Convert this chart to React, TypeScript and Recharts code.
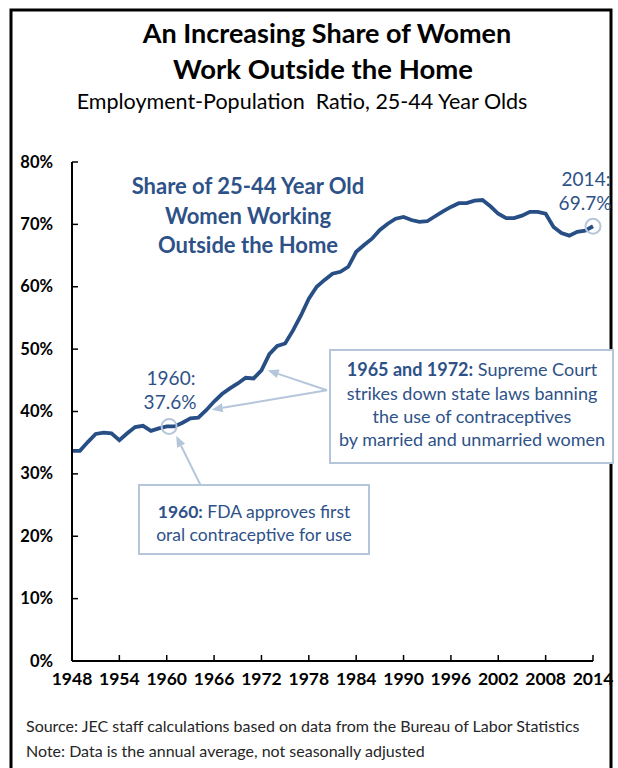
import { LineChart, Line, XAxis, YAxis, ReferenceDot, ReferenceLine } from 'recharts';

const YEARS = [
  1948, 1949, 1950, 1951, 1952, 1953, 1954, 1955, 1956, 1957, 1958, 1959,
  1960, 1961, 1962, 1963, 1964, 1965, 1966, 1967, 1968, 1969, 1970, 1971,
  1972, 1973, 1974, 1975, 1976, 1977, 1978, 1979, 1980, 1981, 1982, 1983,
  1984, 1985, 1986, 1987, 1988, 1989, 1990, 1991, 1992, 1993, 1994, 1995,
  1996, 1997, 1998, 1999, 2000, 2001, 2002, 2003, 2004, 2005, 2006, 2007,
  2008, 2009, 2010, 2011, 2012, 2013, 2014,
];

// employment-population ratio, women 25-44, percent
const SHARE = [
  33.7, 33.7, 35.1, 36.4, 36.6, 36.5, 35.4, 36.5, 37.5, 37.7, 36.9, 37.3,
  37.6, 37.6, 38.2, 38.9, 39.0, 40.2, 41.6, 42.8, 43.7, 44.5, 45.4, 45.3,
  46.6, 49.2, 50.5, 50.9, 53.0, 55.4, 58.1, 60.0, 61.1, 62.1, 62.4, 63.2,
  65.6, 66.7, 67.7, 69.1, 70.1, 70.9, 71.2, 70.7, 70.4, 70.5, 71.3, 72.1,
  72.8, 73.4, 73.4, 73.8, 73.9, 72.9, 71.7, 71.0, 71.0, 71.4, 72.0, 72.0,
  71.7, 69.6, 68.6, 68.2, 68.8, 69.0, 69.7,
];

const X_TICKS = [1948, 1954, 1960, 1966, 1972, 1978, 1984, 1990, 1996, 2002, 2008, 2014];
const Y_TICKS = [0, 10, 20, 30, 40, 50, 60, 70, 80];

const data = YEARS.map((year, i) => ({ year, share: SHARE[i] }));

const FONT = 'Lato, "Open Sans", sans-serif';
const LINE_COLOR = '#284E86';
const TEXT_BLUE = '#2E5288';
const PALE = '#B5C6DA';

const XTick = ({ x, y, payload }: any) => (
  <g>
    <line x1={x} x2={x} y1={y} y2={y - 6} stroke="#000" strokeWidth={1.5} />
    <text x={x} y={y + 24} textAnchor="middle" fontFamily={FONT} fontWeight="bold" fontSize={17.5} fill="#000">
      {payload.value}
    </text>
  </g>
);

const YTick = ({ x, y, payload }: any) => (
  <g>
    <line x1={x} x2={x + 6} y1={y} y2={y} stroke="#000" strokeWidth={1.5} />
    <text x={x - 19} y={y + 5.5} textAnchor="end" fontFamily={FONT} fontWeight="bold" fontSize={16.5} fill="#000">
      {`${payload.value}%`}
    </text>
  </g>
);

const Arrow = (props: any) => {
  const { x1, y1, x2, y2 } = props;
  const dx = x2 - x1;
  const dy = y2 - y1;
  const len = Math.sqrt(dx * dx + dy * dy) || 1;
  const ux = dx / len;
  const uy = dy / len;
  const bx = x2 - ux * 11;
  const by = y2 - uy * 11;
  const head = `${x2},${y2} ${bx - uy * 4.5},${by + ux * 4.5} ${bx + uy * 4.5},${by - ux * 4.5}`;
  return (
    <g>
      <line x1={x1} y1={y1} x2={bx} y2={by} stroke={PALE} strokeWidth={2} />
      <polygon points={head} fill={PALE} />
    </g>
  );
};

const App = () => (
  <div style={{ position: 'absolute', left: 0, top: 0, width: 618, height: 768, background: '#fff', overflow: 'hidden' }}>
    <LineChart
      width={618}
      height={768}
      data={data}
      margin={{ top: 162, right: 25, bottom: 77, left: 12 }}
    >
      <XAxis
        dataKey="year"
        type="number"
        domain={[1948, 2014]}
        ticks={X_TICKS}
        interval={0}
        height={30}
        tickSize={0}
        tickMargin={0}
        tick={<XTick />}
        tickLine={false}
        axisLine={{ stroke: '#000', strokeWidth: 2 }}
      />
      <YAxis
        type="number"
        domain={[0, 80]}
        ticks={Y_TICKS}
        interval={0}
        width={60}
        tickSize={0}
        tickMargin={0}
        tick={<YTick />}
        tickLine={false}
        axisLine={{ stroke: '#000', strokeWidth: 2 }}
      />
      <ReferenceLine segment={[{ x: 1964.6, y: 27.4 }, { x: 1961.2, y: 36.1 }]} shape={Arrow} ifOverflow="visible" />
      <ReferenceLine segment={[{ x: 1980.3, y: 43.4 }, { x: 1972.8, y: 46.6 }]} shape={Arrow} ifOverflow="visible" />
      <ReferenceLine segment={[{ x: 1980.3, y: 43.4 }, { x: 1965.7, y: 40.3 }]} shape={Arrow} ifOverflow="visible" />
      <Line
        type="linear"
        dataKey="share"
        stroke={LINE_COLOR}
        strokeWidth={3.8}
        dot={false}
        isAnimationActive={false}
      />
      <ReferenceDot x={1960.3} y={37.6} r={7.5} fill="none" stroke={PALE} strokeWidth={2} ifOverflow="visible" />
      <ReferenceDot x={2014} y={69.7} r={7.5} fill="none" stroke={PALE} strokeWidth={2} ifOverflow="visible" />
    </LineChart>

    <svg width={618} height={768} style={{ position: 'absolute', left: 0, top: 0, pointerEvents: 'none' }} fontFamily={FONT}>
      <rect x={11} y={10} width={600} height={800} fill="none" stroke="#000" strokeWidth={3} />

      <text x={327} y={43} textAnchor="middle" fontWeight="bold" fontSize={27} fill="#000">An Increasing Share of Women</text>
      <text x={323} y={79} textAnchor="middle" fontWeight="bold" fontSize={27.5} fill="#000">Work Outside the Home</text>
      <text x={302} y={109} textAnchor="middle" fontSize={21.5} fill="#000" style={{ whiteSpace: 'pre' }}>
        Employment-Population  Ratio, 25-44 Year Olds
      </text>

      <g fill={TEXT_BLUE} fontWeight="bold" fontSize={22} textAnchor="middle">
        <text x={248} y={194}>Share of 25-44 Year Old</text>
        <text x={248} y={223.5}>Women Working</text>
        <text x={248} y={253}>Outside the Home</text>
      </g>

      <g fill={TEXT_BLUE} fontSize={19} textAnchor="middle">
        <text x={171} y={385}>1960:</text>
        <text x={170} y={409}>37.6%</text>
        <text x={586} y={186}>2014:</text>
        <text x={585} y={210}>69.7%</text>
      </g>

      <rect x={330} y={350} width={283} height={113} fill="#fff" stroke={PALE} strokeWidth={2} />
      <g fill={TEXT_BLUE} fontSize={18} textAnchor="middle">
        <text x={472} y={376}>
          <tspan fontWeight="bold">1965 and 1972:</tspan> Supreme Court
        </text>
        <text x={472} y={399.5}>strikes down state laws banning</text>
        <text x={472} y={422.5}>the use of contraceptives</text>
        <text x={472} y={446}>by married and unmarried women</text>
      </g>

      <rect x={139} y={485} width={230} height={69} fill="#fff" stroke={PALE} strokeWidth={2} />
      <g fill={TEXT_BLUE} fontSize={17.5} textAnchor="middle">
        <text x={254} y={518}>
          <tspan fontWeight="bold">1960:</tspan> FDA approves first
        </text>
        <text x={254} y={541}>oral contraceptive for use</text>
      </g>

      <g fill="#262626" fontSize={16}>
        <text x={26} y={732}>Source: JEC staff calculations based on data from the Bureau of Labor Statistics</text>
        <text x={26} y={757}>Note: Data is the annual average, not seasonally adjusted</text>
      </g>
    </svg>
  </div>
);

export default App;
